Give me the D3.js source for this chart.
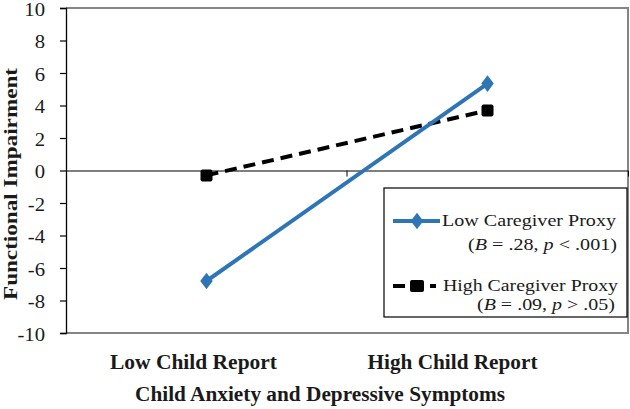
<!DOCTYPE html>
<html><head><meta charset="utf-8">
<script src="https://cdn.jsdelivr.net/npm/d3@7"></script>
<style>body{margin:0;background:#fff}svg{display:block}</style>
</head><body>
<svg id="c" width="630" height="409"></svg>
<script>
const categories = ["Low Child Report", "High Child Report"];
const lowCaregiver = [-6.8, 5.35];
const highCaregiver = [-0.3, 3.7];
const yTicks = [-10, -8, -6, -4, -2, 0, 2, 4, 6, 8, 10];
const seriesNames = ["Low Caregiver Proxy", "High Caregiver Proxy"];
const seriesStats = [
  [["(", "n"], ["B", "i"], [" = .28, ", "n"], ["p", "i"], [" < .001)", "n"]],
  [["(", "n"], ["B", "i"], [" = .09, ", "n"], ["p", "i"], [" > .05)", "n"]]
];

const svg = d3.select("#c");
const font = "'Liberation Serif','Times New Roman',serif";
const L = 66, R = 628, T = 8, B = 333;
const x = d3.scaleBand().domain(categories).range([L, R]);
const y = d3.scaleLinear().domain([-10, 10]).range([B, T]);
const ink = "#1a1a1a";

// plot frame (gray top/right/bottom)
svg.append("path").attr("d", `M${L},${T}H${R}V${B}H${L}`)
  .attr("fill", "none").attr("stroke", "#858585").attr("stroke-width", 2);

// y axis
const sx = 1.15;
const ya = svg.append("g").attr("transform", `translate(${L},0)`)
  .call(d3.axisLeft(y).tickValues(yTicks).tickSize(6).tickPadding(21).tickFormat(d => String(d)));
ya.select(".domain").attr("stroke", "#000").attr("stroke-width", 1.3);
ya.selectAll(".tick line").attr("stroke", "#000").attr("stroke-width", 1.2);
ya.selectAll("text").attr("font-family", font).attr("font-size", 18).attr("fill", ink)
  .attr("x", -21 / sx).attr("transform", `scale(${sx},1)`).attr("dy", "0.4em");

// x axis at zero
const xa = svg.append("g").attr("transform", `translate(0,${y(0)})`)
  .call(d3.axisBottom(x).tickSize(6).tickFormat(""));
xa.select(".domain").attr("stroke", "#000").attr("stroke-width", 1);
xa.selectAll(".tick").remove();
svg.append("line").attr("x1", x(categories[1])).attr("x2", x(categories[1]))
  .attr("y1", y(0)).attr("y2", y(0) + 6).attr("stroke", "#000").attr("stroke-width", 1);

// category labels
const labelShift = [-13, -35];
const labelLen = [167, 170];
svg.selectAll("text.cat").data(categories).enter().append("text")
  .attr("x", (d, i) => x(d) + x.bandwidth() / 2 + labelShift[i] - labelLen[i] / 2).attr("y", 369)
  .attr("textLength", (d, i) => labelLen[i]).attr("lengthAdjust", "spacingAndGlyphs")
  .attr("font-family", font).attr("font-weight", "bold")
  .attr("font-size", 20).attr("fill", ink).text(d => d);

svg.append("text").attr("x", 135).attr("y", 401)
  .attr("textLength", 370).attr("lengthAdjust", "spacingAndGlyphs")
  .attr("font-family", font).attr("font-weight", "bold").attr("font-size", 20).attr("fill", ink)
  .text("Child Anxiety and Depressive Symptoms");

svg.append("text").attr("transform", `translate(17,300) rotate(-90)`)
  .attr("textLength", 232).attr("lengthAdjust", "spacingAndGlyphs")
  .attr("font-family", font).attr("font-weight", "bold").attr("font-size", 18.5).attr("fill", ink)
  .text("Functional Impairment");

const cx = d => x(d) + x.bandwidth() / 2;
const line = d3.line().x((d, i) => cx(categories[i])).y(d => y(d));

// high caregiver (dashed black, squares)
svg.append("path").datum(highCaregiver).attr("d", line).attr("fill", "none")
  .attr("stroke", "#000").attr("stroke-width", 4).attr("stroke-dasharray", "12,7");
svg.selectAll("rect.hc").data(highCaregiver).enter().append("rect")
  .attr("x", (d, i) => cx(categories[i]) - 6).attr("y", d => y(d) - 6)
  .attr("width", 12).attr("height", 12).attr("rx", 2).attr("fill", "#000");

// low caregiver (blue solid, diamonds)
const blue = "#2e75b6";
svg.append("path").datum(lowCaregiver).attr("d", line).attr("fill", "none")
  .attr("stroke", blue).attr("stroke-width", 4);
const diamond = d3.symbol().type(d3.symbolDiamond).size(80);
svg.selectAll("path.lc").data(lowCaregiver).enter().append("path")
  .attr("d", diamond).attr("transform", (d, i) => `translate(${cx(categories[i])},${y(d)}) scale(1.3,1)`)
  .attr("fill", blue);

// legend
const lg = svg.append("g");
lg.append("rect").attr("x", 384).attr("y", 188).attr("width", 243).attr("height", 129)
  .attr("fill", "#fff").attr("stroke", "#000").attr("stroke-width", 1.2);
lg.append("line").attr("x1", 393).attr("x2", 440).attr("y1", 221).attr("y2", 221)
  .attr("stroke", blue).attr("stroke-width", 4);
lg.append("path").attr("d", diamond).attr("transform", "translate(417,221) scale(1.3,1)").attr("fill", blue);
lg.append("line").attr("x1", 393).attr("x2", 437).attr("y1", 286).attr("y2", 286)
  .attr("stroke", "#000").attr("stroke-width", 4).attr("stroke-dasharray", "12,25,6");
lg.append("rect").attr("x", 410).attr("y", 280).attr("width", 14).attr("height", 12).attr("rx", 2).attr("fill", "#000");

const nameX = [442, 443], nameLen = [174, 175];
const nameY = [226, 291];
const statX = [468, 477], statLen = [149, 138], statY = [250, 310];
seriesNames.forEach((n, i) => {
  lg.append("text").attr("x", nameX[i]).attr("y", nameY[i]).attr("font-family", font)
    .attr("textLength", nameLen[i]).attr("lengthAdjust", "spacingAndGlyphs")
    .attr("font-size", 16.5).attr("fill", ink).text(n);
  const t = lg.append("text").attr("x", statX[i]).attr("y", statY[i])
    .attr("textLength", statLen[i]).attr("lengthAdjust", "spacingAndGlyphs")
    .attr("font-family", font).attr("font-size", 16.5).attr("fill", ink);
  seriesStats[i].forEach(([s, st]) => t.append("tspan").attr("font-style", st === "i" ? "italic" : "normal").text(s));
});
</script>
</body></html>
